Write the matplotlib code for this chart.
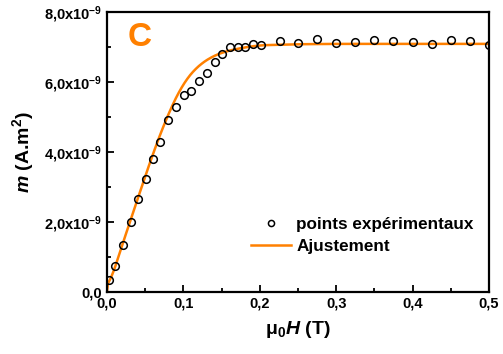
import numpy as np
import matplotlib
matplotlib.use('Agg')
import matplotlib.pyplot as plt
from matplotlib.ticker import FuncFormatter, MultipleLocator

plt.rcParams['font.family'] = 'Liberation Sans'
plt.rcParams['font.weight'] = 'bold'
plt.rcParams['axes.labelweight'] = 'bold'
plt.rcParams['mathtext.fontset'] = 'custom'
plt.rcParams['mathtext.rm'] = 'Liberation Sans:bold'
plt.rcParams['mathtext.it'] = 'Liberation Sans:bold:italic'
plt.rcParams['mathtext.bf'] = 'Liberation Sans:bold'
plt.rcParams['mathtext.default'] = 'rm'

ORANGE = '#ff8000'

# experimental points (field in T, moment in 1e-9 A.m^2)
h_exp = [0.002, 0.0105, 0.0205, 0.031, 0.041, 0.051, 0.0606, 0.070, 0.0805, 0.0906,
         0.1008, 0.110, 0.1208, 0.1309, 0.141, 0.151, 0.161, 0.171, 0.181, 0.191,
         0.201, 0.226, 0.250, 0.275, 0.300, 0.325, 0.350, 0.375, 0.400, 0.425,
         0.450, 0.475, 0.500]
m_exp = [0.34, 0.75, 1.33, 2.01, 2.66, 3.24, 3.79, 4.28, 4.91, 5.29,
         5.62, 5.75, 6.03, 6.25, 6.56, 6.80, 7.01, 7.01, 7.01, 7.08,
         7.05, 7.16, 7.12, 7.24, 7.12, 7.14, 7.20, 7.18, 7.14, 7.09,
         7.20, 7.18, 7.06]

# fitted curve
h_fit = [0.0, 0.02, 0.04, 0.06, 0.07, 0.08, 0.09, 0.10, 0.11, 0.12, 0.13,
         0.14, 0.15, 0.16, 0.18, 0.20, 0.25, 0.30, 0.40, 0.50]
m_fit = [0.0, 1.35, 2.65, 3.95, 4.52, 5.08, 5.55, 5.96, 6.25, 6.47, 6.63,
         6.75, 6.84, 6.90, 6.99, 7.05, 7.08, 7.09, 7.09, 7.09]

fig = plt.figure(figsize=(5.03, 3.54), dpi=100)
ax = fig.add_axes([0.2127, 0.1751, 0.7593, 0.7909])

# smooth the read-off fit points for drawing
hh = np.linspace(0, 0.5, 400)
mm = np.interp(hh, h_fit, m_fit)
k = 9
mm_s = np.convolve(np.pad(mm, k, mode='edge'), np.ones(2 * k + 1) / (2 * k + 1), mode='same')[k:-k]
mm_s[0] = 0.0

ax.plot(np.array(h_exp), np.array(m_exp) * 1e-9, 'o', mfc='none', mec='black',
        ms=5.5, mew=1.1, label='points expérimentaux', zorder=3)
ax.plot(hh, mm_s * 1e-9, color=ORANGE, lw=1.8, label='Ajustement', zorder=2)

ax.set_xlim(0, 0.5)
ax.set_ylim(0, 8e-9)
ax.xaxis.set_major_locator(MultipleLocator(0.1))
ax.xaxis.set_minor_locator(MultipleLocator(0.05))
ax.yaxis.set_major_locator(MultipleLocator(2e-9))
ax.yaxis.set_minor_locator(MultipleLocator(1e-9))

ax.xaxis.set_major_formatter(FuncFormatter(lambda v, p: f'{v:.1f}'.replace('.', ',')))


def yfmt(v, p):
    if abs(v) < 1e-15:
        return '0,0'
    return f'{v / 1e-9:.1f}'.replace('.', ',') + 'x10$^{-9}$'


ax.yaxis.set_major_formatter(FuncFormatter(yfmt))
ax.tick_params(which='both', direction='in', top=False, right=False, labelsize=10.5, width=1.3)
ax.tick_params(which='major', length=5)
ax.tick_params(which='minor', length=3)
for s in ax.spines.values():
    s.set_linewidth(1.6)

ax.set_xlabel(r'$\mu_0$$\mathit{H}$ (T)', fontsize=14, labelpad=6)
ax.set_ylabel(r'$\mathit{m}$ (A.m$^2$)', fontsize=14, labelpad=6)

ax.text(0.055, 0.91, 'C', transform=ax.transAxes, color=ORANGE, fontsize=24,
        fontweight='bold', va='center', ha='left')

ax.legend(loc='lower right', bbox_to_anchor=(1.0, 0.08), frameon=False, fontsize=12.3,
          handlelength=2.35, handletextpad=0.3, labelspacing=0.4, markerscale=0.8)

fig.savefig('out.png', dpi=100)
